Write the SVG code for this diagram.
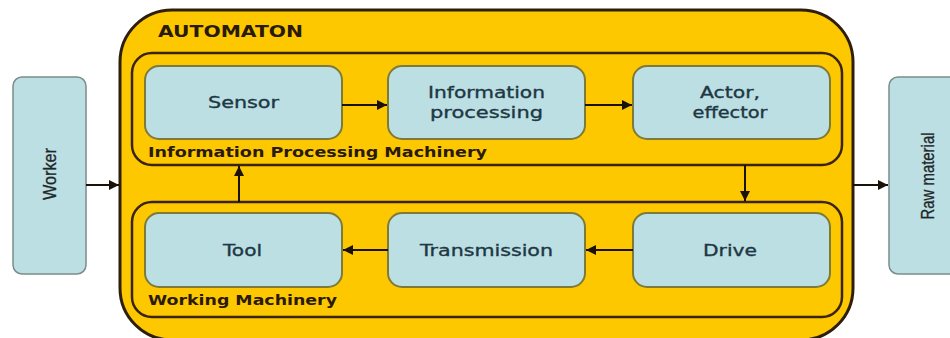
<svg xmlns="http://www.w3.org/2000/svg" width="950" height="338" viewBox="0 0 950 338">
<defs>
<style>
.node{fill:#bcdfe3;stroke:#7d7a3a;stroke-width:2}
.side{fill:#bcdfe3;stroke:#7a8c8c;stroke-width:1.5}
.frame{fill:none;stroke:#3a2410;stroke-width:2.5}
.t{font-family:"DejaVu Sans",Verdana,sans-serif;font-size:16px;fill:#1e3744;text-anchor:middle;stroke:#1e3744;stroke-width:0.35}
.lbl{font-family:"DejaVu Sans",Verdana,sans-serif;font-weight:bold;fill:#2a1a08}
.st{font-family:"Liberation Sans",Arial,sans-serif;font-size:18px;fill:#1e2628;text-anchor:middle;stroke:#1e2628;stroke-width:0.3}
.c{stroke:#1a1208;stroke-width:2;fill:none;marker-end:url(#ah)}
</style>
<marker id="ah" viewBox="0 0 10 10" refX="10" refY="5" markerWidth="5" markerHeight="5" orient="auto" markerUnits="strokeWidth">
<path d="M0,0 L10,5 L0,10 z" fill="#1a1208"/>
</marker>
</defs>
<rect width="950" height="338" fill="#ffffff"/>
<g id="worker">
<rect class="side" x="13" y="77" width="73" height="197" rx="9"/>
<text class="st" transform="translate(56,174) rotate(-90)" textLength="52" lengthAdjust="spacingAndGlyphs">Worker</text>
</g>
<g id="raw-material">
<rect class="side" x="889" y="77" width="73" height="197" rx="9"/>
<text class="st" transform="translate(934,176) rotate(-90)" textLength="87" lengthAdjust="spacingAndGlyphs">Raw material</text>
</g>
<g id="automaton">
<rect x="120" y="10" width="733" height="330" rx="52" fill="#fdc800" stroke="#2e1e0c" stroke-width="3"/>
<text class="lbl" x="158" y="37" font-size="16" textLength="145" lengthAdjust="spacingAndGlyphs">AUTOMATON</text>
</g>
<g id="info-machinery">
<rect class="frame" x="132" y="53" width="710" height="112" rx="20"/>
<text class="lbl" x="148" y="157" font-size="14" textLength="339" lengthAdjust="spacingAndGlyphs">Information Processing Machinery</text>
</g>
<g id="working-machinery">
<rect class="frame" x="132" y="202" width="710" height="115" rx="20"/>
<text class="lbl" x="148" y="305" font-size="14" textLength="189" lengthAdjust="spacingAndGlyphs">Working Machinery</text>
</g>
<g id="sensor">
<rect class="node" x="145" y="66" width="197" height="73" rx="14"/>
<text class="t" x="243.5" y="108" textLength="71" lengthAdjust="spacingAndGlyphs">Sensor</text>
</g>
<g id="information-processing">
<rect class="node" x="388" y="66" width="197" height="73" rx="14"/>
<text class="t" x="486.5" y="98" textLength="117" lengthAdjust="spacingAndGlyphs">Information</text>
<text class="t" x="486.5" y="118" textLength="113" lengthAdjust="spacingAndGlyphs">processing</text>
</g>
<g id="actor">
<rect class="node" x="633" y="66" width="197" height="73" rx="14"/>
<text class="t" x="730" y="98" textLength="60" lengthAdjust="spacingAndGlyphs">Actor,</text>
<text class="t" x="730" y="118" textLength="75" lengthAdjust="spacingAndGlyphs">effector</text>
</g>
<g id="tool">
<rect class="node" x="145" y="213" width="197" height="74" rx="14"/>
<text class="t" x="242.5" y="256" textLength="39" lengthAdjust="spacingAndGlyphs">Tool</text>
</g>
<g id="transmission">
<rect class="node" x="388" y="213" width="197" height="74" rx="14"/>
<text class="t" x="486.5" y="256" textLength="133" lengthAdjust="spacingAndGlyphs">Transmission</text>
</g>
<g id="drive">
<rect class="node" x="633" y="213" width="197" height="74" rx="14"/>
<text class="t" x="730" y="256" textLength="54" lengthAdjust="spacingAndGlyphs">Drive</text>
</g>
<g id="connectors">
<line class="c" x1="86" y1="185" x2="119" y2="185"/>
<line class="c" x1="853" y1="185" x2="888" y2="185"/>
<line class="c" x1="342" y1="105" x2="387" y2="105"/>
<line class="c" x1="585" y1="105" x2="632" y2="105"/>
<line class="c" x1="745" y1="165" x2="745" y2="201"/>
<line class="c" x1="239" y1="202" x2="239" y2="166"/>
<line class="c" x1="633" y1="250" x2="586" y2="250"/>
<line class="c" x1="388" y1="250" x2="343" y2="250"/>
</g>
</svg>
